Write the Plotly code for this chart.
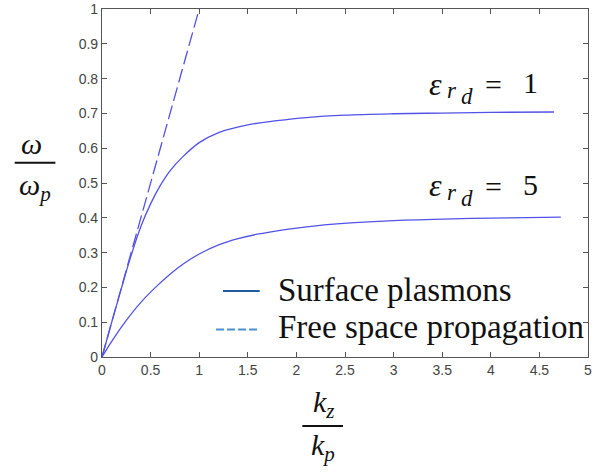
import plotly.graph_objects as go

# ---- data ----
kz_eps1 = [0, 0.1, 0.2, 0.3, 0.4, 0.5, 0.6, 0.7, 0.83, 1.0, 1.2, 1.5, 1.8, 2.1, 2.5, 3.0, 3.5, 4.0, 4.65]
w_eps1 = [0, 0.1, 0.198, 0.292, 0.375, 0.44, 0.493, 0.535, 0.575, 0.616, 0.645, 0.667, 0.679, 0.688, 0.695, 0.699, 0.701, 0.703, 0.704]

kz_eps5 = [0, 0.1, 0.25, 0.4, 0.55, 0.7, 0.85, 1.0, 1.2, 1.4, 1.6, 1.9, 2.2, 2.6, 3.0, 3.6, 4.2, 4.72]
w_eps5 = [0, 0.045, 0.105, 0.157, 0.2, 0.238, 0.27, 0.296, 0.322, 0.34, 0.353, 0.367, 0.377, 0.386, 0.392, 0.397, 0.4, 0.402]

kz_free = [0, 1.0]
w_free = [0, 1.0]

x_ticks = [0, 0.5, 1, 1.5, 2, 2.5, 3, 3.5, 4, 4.5, 5]
x_ticklabels = ["0", "0.5", "1", "1.5", "2", "2.5", "3", "3.5", "4", "4.5", "5"]
y_ticks = [0, 0.1, 0.2, 0.3, 0.4, 0.5, 0.6, 0.7, 0.8, 0.9, 1]
y_ticklabels = ["0", "0.1", "0.2", "0.3", "0.4", "0.5", "0.6", "0.7", "0.8", "0.9", "1"]

legend_labels = ["Surface plasmons", "Free space propagation"]
eps_values = ["1", "5"]

# ---- layout helpers (pixel -> paper) ----
W, H = 593, 475
L, R, T, B = 102, 1, 4, 118
PW, PH = W - L - R, H - T - B


def px(x):
    return (x - L) / PW


def py(y):
    return (H - B - y) / PH


CURVE = "#5252E6"
fig = go.Figure()
fig.add_trace(go.Scatter(x=kz_free, y=w_free, mode="lines",
                         line=dict(color=CURVE, width=1.3, dash="14px,5px"), showlegend=False))
fig.add_trace(go.Scatter(x=kz_eps1, y=w_eps1, mode="lines", line_shape="spline",
                         line=dict(color=CURVE, width=1.3), showlegend=False))
fig.add_trace(go.Scatter(x=kz_eps5, y=w_eps5, mode="lines", line_shape="spline",
                         line=dict(color=CURVE, width=1.3), showlegend=False))

axis_common = dict(showline=True, linecolor="#555", linewidth=1.2, mirror="ticks",
                   ticks="inside", ticklen=5, tickcolor="#555", showgrid=False, zeroline=False,
                   ticklabeloverflow="allow",
                   tickfont=dict(family="Liberation Sans", size=14, color="#444"))
fig.update_xaxes(range=[0, 5], tickvals=x_ticks, ticktext=x_ticklabels, **axis_common)
fig.update_yaxes(range=[0, 1], tickvals=y_ticks, ticktext=y_ticklabels, **axis_common)

serif = "Liberation Serif"
annotations = []
shapes = []


def note(text, x, y, size, xanchor="center", family=serif):
    annotations.append(dict(text=text, x=px(x), y=py(y), xref="paper", yref="paper",
                            xanchor=xanchor, yanchor="middle", showarrow=False,
                            font=dict(family=family, size=size, color="#111")))


# y-axis fraction label
note("<i>ω</i>", 30.5, 140, 30)
shapes.append(dict(type="line", xref="paper", yref="paper", x0=px(14), x1=px(55), y0=py(160), y1=py(160),
                   line=dict(color="#111", width=2)))
note("<i>ω<sub>p</sub></i>", 34, 185, 30)

# x-axis fraction label
note("<i>k<sub>z</sub></i>", 326, 405, 30)
shapes.append(dict(type="line", xref="paper", yref="paper", x0=px(304), x1=px(345), y0=py(427), y1=py(427),
                   line=dict(color="#111", width=2)))
note("<i>k<sub>p</sub></i>", 325, 448, 30)

# curve labels  (ε with r, sub-sub d, "=", value)
for val, dy in zip(eps_values, [0, 103]):
    note("<i>ε</i>", 438, 80 + dy, 32)
    note("<i>r</i>", 455, 87 + dy, 23)
    note("<i>d</i>", 470, 93 + dy, 23)
    note("=", 497, 81 + dy, 30)
    note(val, 534, 79 + dy, 30)

# legend
shapes.append(dict(type="line", xref="paper", yref="paper", x0=px(224), x1=px(261), y0=py(290), y1=py(290),
                   line=dict(color="#1F5AA6", width=2)))
shapes.append(dict(type="line", xref="paper", yref="paper", x0=px(217), x1=px(261), y0=py(329), y1=py(329),
                   line=dict(color="#4F8FD0", width=2, dash="8px,3px")))
for lab, ycen in zip(legend_labels, [289.5, 326.5]):
    note(lab, 277, ycen, 33, xanchor="left")

fig.update_layout(width=W, height=H, margin=dict(l=L, r=R, t=T, b=B),
                  paper_bgcolor="white", plot_bgcolor="white",
                  annotations=annotations, shapes=shapes, showlegend=False)

fig.write_html("out.html", config={"displayModeBar": False},
               post_script="document.body.style.margin='0px';")
